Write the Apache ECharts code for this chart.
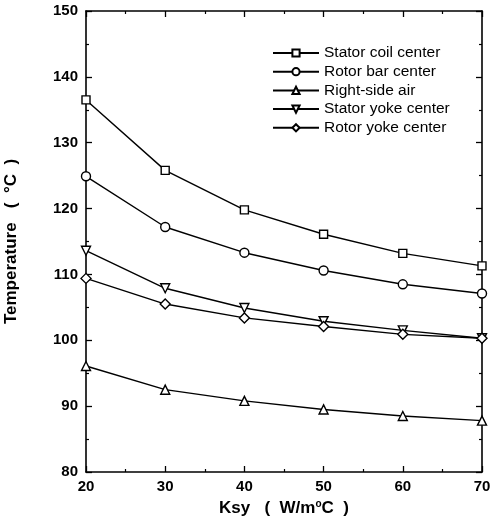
<!DOCTYPE html>
<html>
<head>
<meta charset="utf-8">
<script src="https://cdn.jsdelivr.net/npm/echarts@6/dist/echarts.min.js"></script>
<style>
  html, body { margin: 0; padding: 0; background: #fff; }
  #chart { width: 495px; height: 526px; }
</style>
</head>
<body>
<div id="chart"></div>
<script>
const ksy = [20, 30, 40, 50, 60, 70];
const statorCoil = [136.5, 125.8, 119.8, 116.1, 113.2, 111.3];
const rotorBar = [124.9, 117.2, 113.3, 110.6, 108.5, 107.1];
const rightSideAir = [96.1, 92.5, 90.8, 89.5, 88.5, 87.8];
const statorYoke = [113.6, 107.9, 104.9, 102.9, 101.5, 100.3];
const rotorYoke = [109.4, 105.5, 103.4, 102.1, 100.9, 100.3];

const seriesNames = ['Stator coil center', 'Rotor bar center', 'Right-side air', 'Stator yoke center', 'Rotor yoke center'];
const seriesValues = [statorCoil, rotorBar, rightSideAir, statorYoke, rotorYoke];
const symbols = ['rect', 'circle', 'triangle', 'triangle', 'diamond'];
const rotations = [0, 0, 0, 180, 0];
const sizes = [8, 9, 9, 9, 10];

const font = 'Liberation Sans, Arial, sans-serif';

const myChart = echarts.init(document.getElementById('chart'));

const series = seriesNames.map((name, i) => ({
  name,
  type: 'line',
  data: ksy.map((x, j) => [x, seriesValues[i][j]]),
  symbol: symbols[i],
  symbolSize: sizes[i],
  symbolRotate: rotations[i],
  showAllSymbol: true,
  clip: false,
  lineStyle: { color: '#000', width: 1.4 },
  itemStyle: { color: '#fff', borderColor: '#000', borderWidth: 1.4 },
  emphasis: { disabled: true },
  z: 3,
}));

// frame axes: ticks point inward on all four sides
const frameTicks = {
  axisLine: { show: true, lineStyle: { color: '#000', width: 1.6 } },
  axisTick: { show: true, inside: true, length: 6, lineStyle: { color: '#000', width: 1.3 } },
  minorTick: { show: true, splitNumber: 2, length: 3, lineStyle: { color: '#000', width: 1.2 } },
  splitLine: { show: false },
};

myChart.setOption({
  animation: false,
  backgroundColor: '#fff',
  grid: { left: 86, right: 13, top: 11, bottom: 54, outerBoundsMode: 'none', containLabel: false },
  legend: {
    orient: 'vertical',
    left: 267,
    top: 40,
    itemWidth: 46,
    itemHeight: 9,
    itemGap: 2.7,
    textStyle: { fontFamily: font, fontSize: 15.5, color: '#000' },
    data: seriesNames,
  },
  xAxis: [
    {
      type: 'value',
      min: 20,
      max: 70,
      interval: 10,
      ...frameTicks,
      axisLabel: { color: '#000', fontFamily: font, fontWeight: 'bold', fontSize: 15, margin: 7 },
      name: '{a|Ksy   (  W/m}{s|o}{a|C  )}',
      nameLocation: 'middle',
      nameGap: 27,
      nameTextStyle: {
        rich: {
          a: { fontFamily: font, fontSize: 17, color: '#000', fontWeight: 'bold' },
          s: { fontFamily: font, fontSize: 10, color: '#000', fontWeight: 'bold', verticalAlign: 'top', padding: [0, 0, 8, 0] },
        },
      },
    },
    {
      type: 'value',
      position: 'top',
      min: 20,
      max: 70,
      interval: 10,
      ...frameTicks,
      axisLabel: { show: false },
    },
  ],
  yAxis: [
    {
      type: 'value',
      min: 80,
      max: 150,
      interval: 10,
      ...frameTicks,
      axisLabel: { color: '#000', fontFamily: font, fontWeight: 'bold', fontSize: 15, margin: 8 },
      name: 'Temperature   (  \u00B0C  )',
      nameLocation: 'middle',
      nameGap: 66,
      nameTextStyle: { fontFamily: font, fontSize: 17, color: '#000', fontWeight: 'bold' },
    },
    {
      type: 'value',
      position: 'right',
      min: 80,
      max: 150,
      interval: 10,
      ...frameTicks,
      axisLabel: { show: false },
    },
  ],
  series,
});
</script>
</body>
</html>
